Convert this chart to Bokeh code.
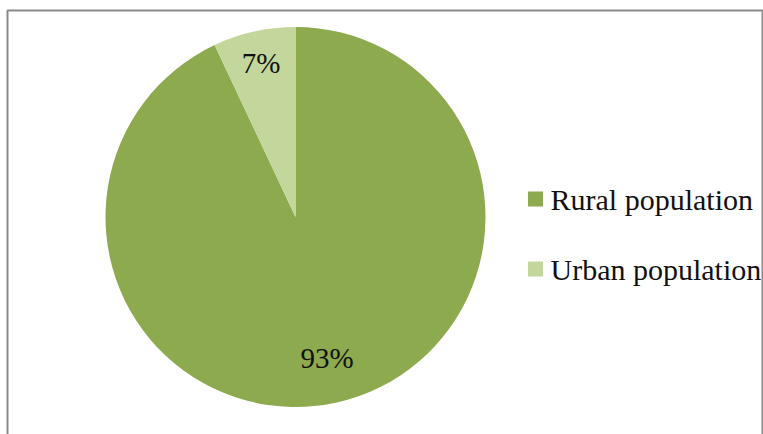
import math
from bokeh.plotting import figure
from bokeh.models import Range1d, ColumnDataSource
from bokeh.core.properties import value
from bokeh.embed import file_html
from bokeh.resources import INLINE

categories = ["Rural population", "Urban population"]
shares = [93, 7]
labels = ["93%", "7%"]
colors = ["#8DAA4E", "#C3D69B"]

W, H = 763, 434
cx, cy, R = 295, H - 216.5, 190

total = sum(shares)
starts, ends, lx, ly = [], [], [], []
acc = 0.0
fracs = [0.76, 0.83]
for s, f in zip(shares, fracs):
    a0 = math.pi / 2 - 2 * math.pi * acc / total
    a1 = math.pi / 2 - 2 * math.pi * (acc + s) / total
    starts.append(a0)
    ends.append(a1)
    mid = (a0 + a1) / 2
    lx.append(cx + f * R * math.cos(mid))
    ly.append(cy + f * R * math.sin(mid))
    acc += s

src = ColumnDataSource(dict(start=starts, end=ends, color=colors, lx=lx, ly=ly, label=labels))

p = figure(width=W, height=H, x_range=Range1d(0, W), y_range=Range1d(0, H),
           output_backend="svg", toolbar_location=None, min_border=0)
p.axis.visible = False
p.grid.visible = False
p.outline_line_color = None
p.background_fill_color = "white"

# chart border (partially cropped in reference)
p.quad(left=[7], right=[762], top=[H - 10], bottom=[-20], fill_color=None,
       line_color="#8a8a8a", line_width=2)

p.wedge(x=cx, y=cy, radius=R, start_angle="start", end_angle="end", direction="clock",
        fill_color="color", line_color=None, source=src)

p.text(x="lx", y="ly", text="label", source=src, text_align="center", text_baseline="middle",
       text_font=value("Liberation Serif"), text_font_size="29px", text_color="#111111")

# legend
leg_y = [H - 198.5, H - 268.5]
p.scatter(x=[535] * len(categories), y=leg_y, marker="square", size=15,
          fill_color=colors, line_color=None)
p.text(x=[550] * len(categories), y=leg_y, text=categories, text_align="left",
       text_baseline="middle", text_font=value("Liberation Serif"), text_font_size="30px",
       text_color="#111111")

open("out.html", "w").write(file_html(p, INLINE))
